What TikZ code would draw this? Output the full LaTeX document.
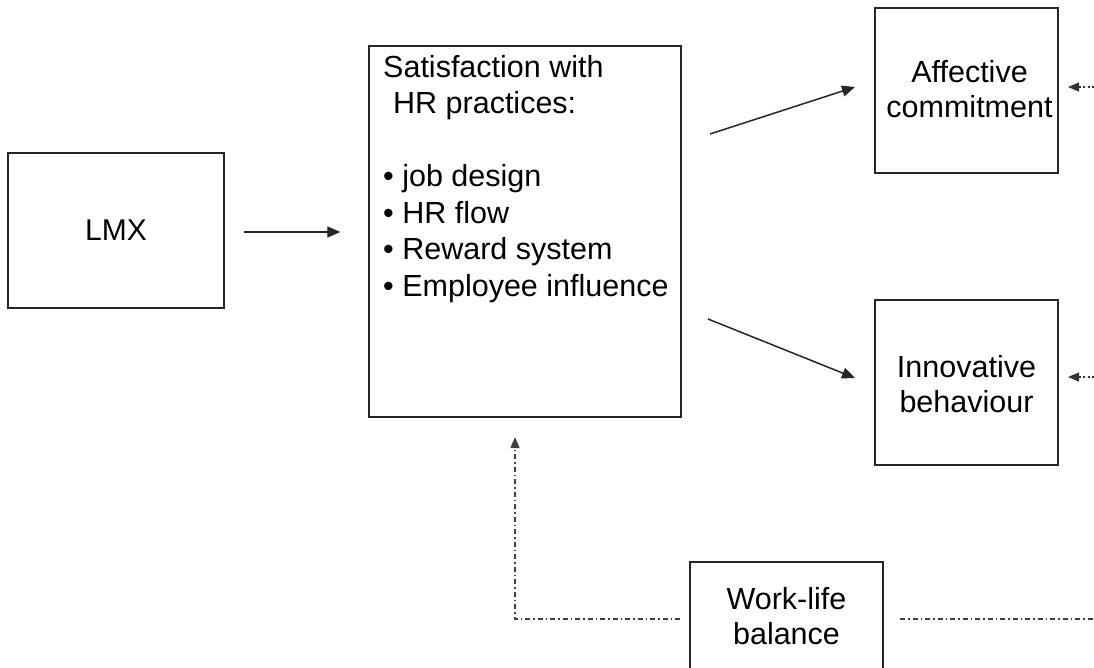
\documentclass[tikz,border=0pt]{standalone}
\usepackage{fontspec}
\setmainfont{Liberation Sans}
\usetikzlibrary{arrows.meta,calc}

\tikzset{
  box/.style={draw=black!85, line width=1.2pt, rectangle, inner sep=0pt, align=center},
  label/.style={inner sep=0pt, align=left},
  solidarrow/.style={line width=1.5pt, draw=black!85, -{Triangle[length=13pt,width=11pt]}},
  dotarrow/.style={line width=1.3pt, draw=black!80, dash pattern=on 2pt off 2.5pt, -{Triangle[length=11pt,width=9pt]}},
  dashdot/.style={line width=1.3pt, draw=black!75, dash pattern=on 5pt off 3pt on 1.5pt off 3pt},
  bigtext/.style={font=\fontsize{30.5}{36.5}\selectfont},
  boxtext/.style={font=\fontsize{30.5}{35}\selectfont},
}

\begin{document}
\begin{tikzpicture}[x=1pt, y=-1pt]
  \useasboundingbox (0,0) rectangle (1094,667);
  \clip (0,0) rectangle (1094,667);

  % boxes
  \node[box, font=\fontsize{30}{36}\selectfont, minimum width=216pt, minimum height=155pt] (lmx) at (116,230.5) {LMX};
  \node[box, minimum width=312pt, minimum height=371pt] (sat) at (525,231.5) {};
  \node[label, bigtext, anchor=north west] (sattext) at (383,55)
    {Satisfaction with\\\hspace*{10pt}HR practices:\\[36.5pt]%
     \textbullet\ job design\\ \textbullet\ HR flow\\ \textbullet\ Reward system\\ \textbullet\ Employee influence};
  \node[box, boxtext, minimum width=183pt, minimum height=165pt] (aff) at (966.5,90.5) {};
  \node[boxtext, inner sep=0pt, align=center] (afftext) at (969.5,89) {Affective\\commitment};
  \node[box, boxtext, minimum width=183pt, minimum height=165pt] (inn) at (966.5,382.5) {};
  \node[boxtext, inner sep=0pt, align=center] (inntext) at (966.5,384) {Innovative\\behaviour};
  \node[box, minimum width=193pt, minimum height=160pt] (wl) at (786.5,642) {};
  \node[boxtext, inner sep=0pt, align=center] (wltext) at (786.5,616) {Work-life\\balance};

  % connector end points
  \coordinate (affstart) at (710,134);
  \coordinate (affend) at (855,87);
  \coordinate (innstart) at (708,319);
  \coordinate (innend) at (855,378);
  \coordinate (affedge) at (1094,87);
  \coordinate (afftip) at (1068,87);
  \coordinate (innedge) at (1094,377);
  \coordinate (inntip) at (1068,377);
  \coordinate (wlleft) at (680,619);
  \coordinate (satin) at (515,437);
  \coordinate (wlright) at (900,619);
  \coordinate (wledge) at (1094,619);

  % solid arrows
  \draw[solidarrow, shorten <=19pt, shorten >=28pt] (lmx.east |- 0,232) -- (sat.west |- 0,232);
  \draw[solidarrow] (affstart) -- (affend);
  \draw[solidarrow] (innstart) -- (innend);

  % dotted arrows entering from the right
  \draw[dotarrow] (affedge) -- (afftip);
  \draw[dotarrow] (innedge) -- (inntip);

  % work-life balance links
  \draw[dashdot, -{Triangle[length=11pt,width=9pt]}] (wlleft) -| (satin);
  \draw[dashdot] (wlright) -- (wledge);
\end{tikzpicture}
\end{document}
